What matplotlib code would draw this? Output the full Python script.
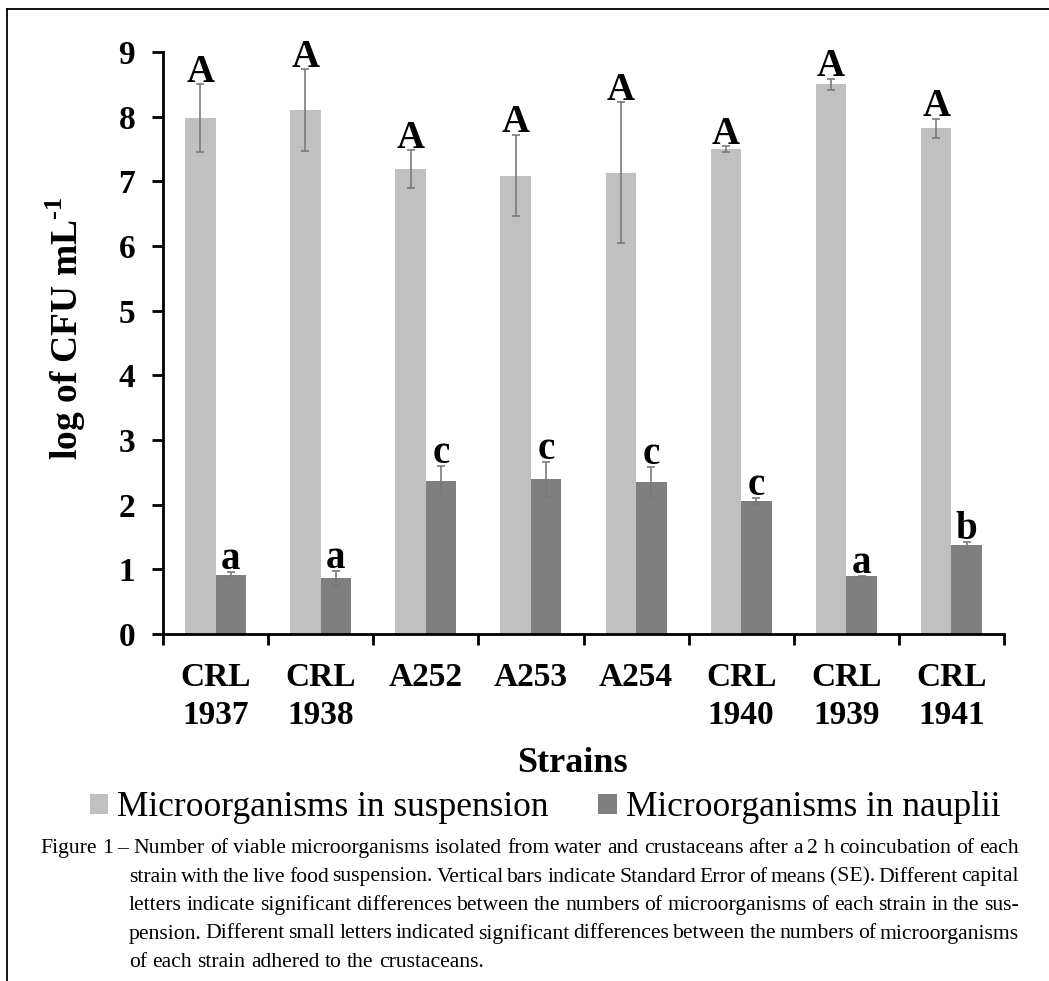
import numpy as np
import matplotlib
matplotlib.use("Agg")
import matplotlib.pyplot as plt
from matplotlib.lines import Line2D
from matplotlib.font_manager import FontProperties

plt.rcParams['font.family'] = ['Liberation Serif', 'DejaVu Serif']
plt.rcParams['mathtext.fontset'] = 'custom'
plt.rcParams['mathtext.rm'] = 'Liberation Serif:bold'
plt.rcParams['mathtext.bf'] = 'Liberation Serif:bold'

# data
strains = ['CRL\n1937', 'CRL\n1938', 'A252', 'A253', 'A254', 'CRL\n1940', 'CRL\n1939', 'CRL\n1941']
suspension = [7.98, 8.10, 7.19, 7.09, 7.13, 7.50, 8.50, 7.82]
suspension_se = [0.52, 0.63, 0.29, 0.63, 1.09, 0.04, 0.09, 0.15]
nauplii = [0.92, 0.86, 2.37, 2.39, 2.35, 2.06, 0.89, 1.37]
nauplii_se = [0.04, 0.12, 0.23, 0.27, 0.24, 0.05, 0.01, 0.05]
suspension_letters = ['A', 'A', 'A', 'A', 'A', 'A', 'A', 'A']
nauplii_letters = ['a', 'a', 'c', 'c', 'c', 'c', 'a', 'b']
series_names = ['Microorganisms in suspension', 'Microorganisms in nauplii']

caption = [
    "Figure 1 \u2013 Number of viable microorganisms isolated from water and crustaceans after a 2 h coincubation of each",
    "strain with the live food suspension. Vertical bars indicate Standard Error of means (SE). Different capital",
    "letters indicate significant differences between the numbers of microorganisms of each strain in the sus-",
    "pension. Different small letters indicated significant differences between the numbers of microorganisms",
    "of each strain adhered to the crustaceans.",
]

W, H = 1049, 981
fig = plt.figure(figsize=(W / 100, H / 100), dpi=100)
ax = fig.add_axes([163 / W, 1 - 634 / H, 841 / W, 582 / H])

x = np.arange(len(strains))
bw = 0.29
err_kw = dict(ecolor='#7a7a7a', elinewidth=1.2, capsize=3, capthick=1.2)
b1 = ax.bar(x - bw / 2, suspension, bw, yerr=suspension_se, color='#c0c0c0',
            error_kw=err_kw, label=series_names[0])
b2 = ax.bar(x + bw / 2, nauplii, bw, yerr=nauplii_se, color='#7f7f7f',
            error_kw=err_kw, label=series_names[1])

# significance letters above the error bars
for i in range(len(strains)):
    ax.annotate(suspension_letters[i], (x[i] - bw / 2, suspension[i] + suspension_se[i]),
                xytext=(0, 2), textcoords='offset points', ha='center', va='baseline',
                fontsize=28, fontweight='bold')
    ax.annotate(nauplii_letters[i], (x[i] + bw / 2, nauplii[i] + nauplii_se[i]),
                xytext=(0, 2), textcoords='offset points', ha='center', va='baseline',
                fontsize=28, fontweight='bold')

ax.set_xlim(-0.5, len(strains) - 0.5)
ax.set_ylim(0, 9)
ax.set_yticks(range(10))
ax.set_xticks(np.arange(len(strains) + 1) - 0.5)
ax.set_xticklabels([])
ax.set_xticks(x, minor=True)
ax.set_xticklabels(strains, minor=True, fontsize=24, fontweight='bold')
ax.tick_params(axis='x', which='minor', length=0, pad=20)
ax.tick_params(axis='x', which='major', length=8, width=2, direction='out')
ax.tick_params(axis='y', length=8, width=2, direction='out', pad=12, labelsize=24)
for lab in ax.get_yticklabels():
    lab.set_fontweight('bold')
for lab in ax.get_xticklabels(minor=True):
    lab.set_linespacing(1.3)

for s in ['top', 'right']:
    ax.spines[s].set_visible(False)
for s in ['left', 'bottom']:
    ax.spines[s].set_linewidth(2)

ax.set_ylabel(r'log of CFU mL$^{\text{-}1}$', fontsize=27, fontweight='bold')
ax.yaxis.set_label_coords(-0.089, 0.525)

fig.text(572 / W, 1 - 772 / H, 'Strains', ha='center', va='baseline',
         fontsize=26, fontweight='bold')

fig.legend(handles=[b1, b2], loc='center', bbox_to_anchor=(545 / W, 1 - 808 / H),
           ncol=2, frameon=False, fontsize=25.5, handlelength=0.52, handleheight=0.52,
           handletextpad=0.25, columnspacing=1.4)

# caption, justified like the journal layout
renderer = fig.canvas.get_renderer()
fp = FontProperties(family='Liberation Serif', size=15.6)
space_w = renderer.get_text_width_height_descent('a a', fp, ismath=False)[0] - \
    renderer.get_text_width_height_descent('aa', fp, ismath=False)[0]
baselines = [853, 881.5, 910, 938.5, 967]
for k, line in enumerate(caption):
    x0 = 40 if k == 0 else 129
    x1 = 1019
    words = line.split(' ')
    widths = [renderer.get_text_width_height_descent(w, fp, ismath=False)[0] for w in words]
    if k < len(caption) - 1:
        gap = (x1 - x0 - sum(widths)) / (len(words) - 1)
    else:
        gap = space_w
    xp = x0
    for w, wd in zip(words, widths):
        fig.text(xp / W, 1 - baselines[k] / H, w, fontproperties=fp, ha='left', va='baseline')
        xp += wd + gap

# page frame
fig.add_artist(Line2D([7 / W, 7 / W], [0, 1 - 9 / H], color='black', lw=1.3))
fig.add_artist(Line2D([7 / W, 1], [1 - 9 / H, 1 - 9 / H], color='black', lw=1.3))

fig.savefig('out.png', dpi=100)
